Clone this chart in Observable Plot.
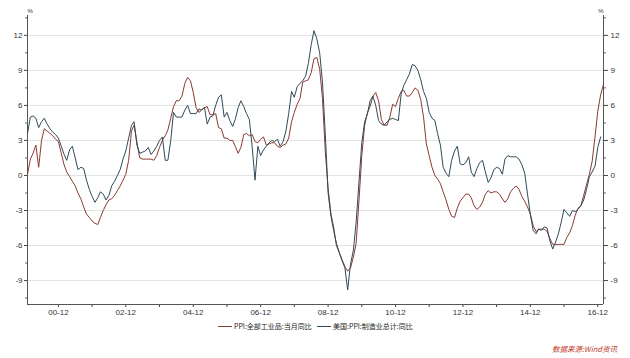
<!DOCTYPE html>
<html><head><meta charset="utf-8">
<script src="https://cdn.jsdelivr.net/npm/d3@7"></script>
<script src="https://cdn.jsdelivr.net/npm/@observablehq/plot@0.6"></script>
<style>
html,body{margin:0;padding:0;background:#fff;}
#wrap{position:relative;width:630px;height:358px;overflow:hidden;font-family:"Noto Sans CJK SC","Noto Sans",sans-serif;}
#wrap svg{position:absolute;left:0;top:0;}
.leg{position:absolute;top:320px;font-size:7px;line-height:12px;color:#222;display:flex;align-items:center;white-space:nowrap;}
.sw{display:inline-block;width:14px;height:1px;margin-right:2px;}
.src{position:absolute;left:552px;top:343px;font-size:7.5px;font-style:italic;color:#c0392b;white-space:nowrap;}
</style></head><body><div id="wrap"></div>
<script>
// ---- data ----
const seriesNames = ["PPI:全部工业品:当月同比", "美国:PPI:制造业总计:同比"];
const seriesColors = ["#8a3a30", "#2e4a58"];
const sourceText = "数据来源:Wind资讯";
const unitLabel = "%";
// China PPI yoy, monthly Jan 2000 – Feb 2017
const chinaPPI = [
  0.1, 1.4, 1.9, 2.6, 0.7, 3.0, 4.0, 3.8, 3.6, 3.4, 3.1, 2.9,
  1.9, 0.9, 0.3, -0.1, -0.5, -0.9, -1.5, -2.0, -2.7, -3.3, -3.6, -3.9,
  -4.1, -4.2, -3.6, -3.0, -2.5, -2.1, -2.0, -1.7, -1.3, -0.9, -0.4, 0.1,
  1.3, 3.8, 4.3, 2.8, 1.5, 1.4, 1.4, 1.4, 1.4, 1.3, 1.7, 2.4,
  3.0, 3.4, 3.9, 4.9, 5.9, 6.4, 6.4, 6.8, 7.9, 8.4, 8.1, 7.1,
  5.8, 5.4, 5.6, 5.8, 5.9, 5.2, 5.2, 5.3, 4.1, 4.0, 3.2, 3.2,
  3.0, 3.0, 2.5, 1.9, 2.4, 3.5, 3.6, 3.4, 3.5, 2.9, 2.8, 3.1,
  3.3, 2.6, 2.7, 2.8, 2.8, 2.5, 2.4, 2.6, 2.7, 3.2, 4.6, 5.4,
  6.1, 6.6, 8.0, 8.1, 8.2, 8.8, 10.0, 10.1, 9.1, 6.6, 2.0, -1.1,
  -3.3, -4.5, -6.0, -6.6, -7.2, -7.8, -8.2, -7.9, -7.0, -5.8, -2.1, 1.7,
  4.3, 5.4, 5.9, 6.8, 7.1, 6.4, 4.8, 4.3, 4.3, 5.0, 6.1, 5.9,
  6.6, 7.2, 7.3, 6.8, 6.8, 7.1, 7.5, 7.3, 6.5, 5.0, 2.7, 1.7,
  0.7, 0.0, -0.3, -0.7, -1.4, -2.1, -2.9, -3.5, -3.6, -2.8, -2.2, -1.9,
  -1.6, -1.6, -1.9, -2.6, -2.9, -2.7, -2.3, -1.6, -1.3, -1.5, -1.4, -1.4,
  -1.6, -2.0, -2.3, -2.0, -1.4, -1.1, -0.9, -1.2, -1.8, -2.2, -2.7, -3.3,
  -4.3, -4.8, -4.6, -4.6, -4.6, -4.8, -5.4, -5.9, -5.9, -5.9, -5.9, -5.9,
  -5.3, -4.9, -4.3, -3.4, -2.8, -2.6, -1.7, -0.8, 0.1, 1.2, 3.3, 5.5,
  6.9, 7.8
];
// US PPI manufacturing yoy, monthly Jan 2000 – Jan 2017
const usPPI = [
  3.6, 5.0, 5.1, 4.9, 4.1, 4.6, 4.9, 4.4, 4.0, 3.7, 3.5, 3.2,
  2.5, 1.8, 1.3, 2.2, 2.5, 1.5, 0.5, 0.7, 0.6, -0.4, -1.2, -1.8,
  -2.3, -1.9, -1.4, -1.6, -2.1, -1.7, -0.9, -0.5, 0.0, 0.5, 1.4, 2.1,
  3.2, 4.3, 4.6, 2.6, 1.9, 2.0, 2.1, 2.4, 1.8, 2.1, 2.5, 3.0,
  3.3, 1.3, 1.3, 3.0, 5.4, 5.0, 5.0, 5.0, 5.6, 6.0, 5.3, 5.3,
  5.3, 5.7, 5.6, 5.85, 4.4, 5.0, 5.1, 6.0, 6.7, 6.9, 5.0, 5.4,
  4.7, 4.2, 4.8, 5.8, 6.4, 5.9, 5.3, 4.8, 2.4, -0.4, 2.5, 1.7,
  2.2, 2.5, 2.8, 3.0, 2.9, 3.1, 2.5, 2.9, 3.8, 5.3, 7.2, 6.7,
  7.6, 7.9, 8.1, 8.5, 9.6, 11.2, 12.4, 11.7, 10.5, 8.0, 3.5, -1.5,
  -3.5, -4.8, -5.8, -6.6, -7.3, -7.9, -9.8, -7.6, -6.4, -4.0, -0.5, 2.8,
  4.6, 5.3, 6.4, 6.8, 6.0, 4.7, 4.4, 4.3, 4.6, 4.8, 4.9, 4.8,
  4.7, 7.0, 7.7, 8.2, 8.7, 9.5, 9.4, 9.0, 8.2, 7.2, 6.6, 5.4,
  4.9, 4.7, 3.6, 2.6, 0.7, 0.2, -0.1, 1.3, 2.1, 2.5, 1.0, 0.9,
  1.1, 1.6, 0.3, -0.1, 0.6, 1.1, 1.3, 0.3, -0.6, -0.2, 0.5, 0.7,
  0.6, 0.1, 1.4, 1.7, 1.6, 1.6, 1.6, 1.4, 0.9, 0.2, -1.6, -3.3,
  -4.7, -5.0, -4.6, -4.7, -4.4, -4.5, -5.6, -6.3, -5.7, -5.0, -4.0, -2.9,
  -3.2, -3.5, -3.0, -3.1, -2.9, -2.6, -2.1, -1.2, -0.1, 0.3, 0.8, 2.4,
  3.3
];
const yMajorTicks = [-9, -6, -3, 0, 3, 6, 9, 12];
const yMinorTicks = [-10.5, -7.5, -4.5, -1.5, 1.5, 4.5, 7.5, 10.5, 13.5];
const xTickYears = [2000, 2001, 2002, 2003, 2004, 2005, 2006, 2007, 2008, 2009, 2010, 2011, 2012, 2013, 2014, 2015, 2016];
const yDomain = [-11.05, 13.7];

// ---- build ----
const months = d3.utcMonth.range(new Date(Date.UTC(2000, 0, 1)), new Date(Date.UTC(2017, 2, 1)));
const xDomain = [months[0], months[months.length - 1]];
const rows = [
  ...chinaPPI.map((v, i) => ({date: months[i], value: v, s: seriesNames[0]})),
  ...usPPI.map((v, i) => ({date: months[i], value: v, s: seriesNames[1]}))
];
const xTicks = xTickYears.map(y => new Date(Date.UTC(y, 11, 1)));
const xFmt = d => d.getUTCFullYear() % 2 === 0 ? `${String(d.getUTCFullYear()).slice(2)}-12` : "";

const chart = Plot.plot({
  width: 630, height: 358,
  marginLeft: 27, marginRight: 27, marginTop: 15, marginBottom: 54,
  style: {fontFamily: "'Liberation Sans', Arial, sans-serif", fontSize: "8px", color: "#333", background: "transparent"},
  x: {type: "utc", domain: xDomain, label: null},
  y: {domain: yDomain, label: null},
  color: {domain: seriesNames, range: seriesColors},
  marks: [
    Plot.gridY(yMajorTicks, {stroke: "#e2e2e2", strokeOpacity: 1}),
    Plot.axisY(yMajorTicks, {anchor: "left", label: null, tickSize: 3, tickPadding: 2, stroke: "#444", tickFormat: d => d}),
    Plot.axisY(yMinorTicks, {anchor: "left", label: null, tickSize: 2, stroke: "#666", tickFormat: () => ""}),
    Plot.axisY(yMajorTicks, {anchor: "right", label: null, tickSize: 4, tickPadding: 3, stroke: "#444", tickFormat: d => d}),
    Plot.axisY(yMinorTicks, {anchor: "right", label: null, tickSize: 2, stroke: "#666", tickFormat: () => ""}),
    Plot.axisX(xTicks, {anchor: "bottom", label: null, tickSize: 3, tickPadding: 2, stroke: "#444", tickFormat: xFmt}),
    Plot.ruleX([xDomain[0], xDomain[1]], {stroke: "#555"}),
    Plot.ruleY([yDomain[0]], {stroke: "#555"}),
    Plot.line(rows, {x: "date", y: "value", z: "s", stroke: "s", strokeWidth: 1}),
    Plot.text([unitLabel], {frameAnchor: "top-left", text: d => d, dy: -3, textAnchor: "start", lineAnchor: "bottom", fontSize: 6}),
    Plot.text([unitLabel], {frameAnchor: "top-right", text: d => d, dy: -3, textAnchor: "end", lineAnchor: "bottom", fontSize: 6})
  ]
});
const wrap = document.getElementById("wrap");
wrap.appendChild(chart);

const legPos = [218, 317];
seriesNames.forEach((n, i) => {
  const d = document.createElement("div");
  d.className = "leg";
  d.style.left = legPos[i] + "px";
  d.innerHTML = `<span class="sw" style="background:${seriesColors[i]}"></span>${n}`;
  wrap.appendChild(d);
});
const src = document.createElement("div");
src.className = "src";
src.textContent = sourceText;
wrap.appendChild(src);
</script>
</body></html>
